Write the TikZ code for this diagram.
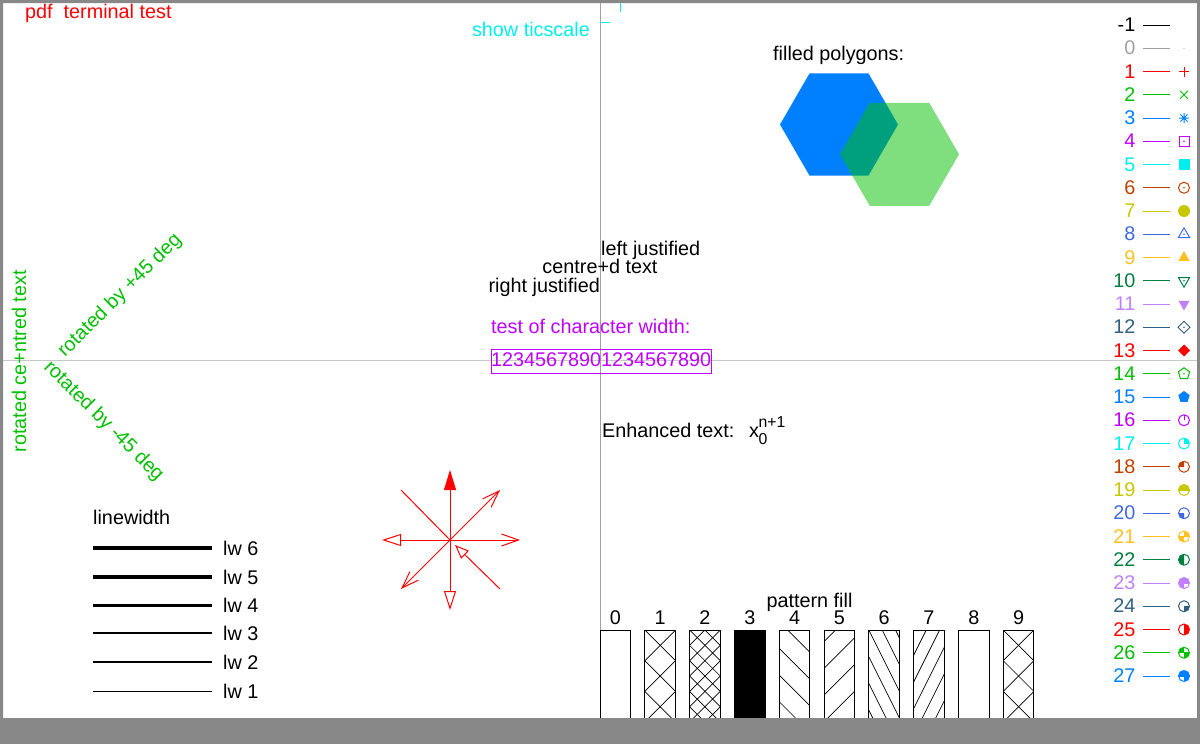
\documentclass[tikz,border=0pt]{standalone}
\usepackage{fontspec}
\setmainfont{Liberation Sans}
\usetikzlibrary{arrows.meta}

\definecolor{framegray}{HTML}{888888}
\definecolor{axisgray}{HTML}{A0A0A0}
\definecolor{zerogray}{HTML}{C8C8C8}
\definecolor{lt0}{HTML}{A0A0A0}
\definecolor{lt1}{HTML}{FF0000}
\definecolor{lt2}{HTML}{00C000}
\definecolor{lt3}{HTML}{0080FF}
\definecolor{lt4}{HTML}{C000FF}
\definecolor{lt5}{HTML}{00EEEE}
\definecolor{lt6}{HTML}{C04000}
\definecolor{lt7}{HTML}{C8C800}
\definecolor{lt8}{HTML}{4169E1}
\definecolor{lt9}{HTML}{FFC020}
\definecolor{lt10}{HTML}{008040}
\definecolor{lt11}{HTML}{C080FF}
\definecolor{lt12}{HTML}{306080}

\newcommand\gpfont{\fontsize{19.8}{23}\selectfont}
\newcommand\gpsmall{\fontsize{15.8}{18}\selectfont}

% hatched strip: box corner, slope, pitch, phase
\newcommand\hatch[4]{%
  \begin{scope}
    \clip (#1) rectangle ++(30.7,92);
    \foreach \hh in {-9,...,9}
      \draw[hatchline] (#1) ++(0,{#4+\hh*#3}) -- ++(30.7,{30.7*#2});
  \end{scope}}

% one filled quarter of a point circle
\newcommand\quadfill[4]{%
  \begin{scope}
    \clip (#1) rectangle ++(#3,#4);
    \fill[#2] (#1) circle[radius=5.5pt];
  \end{scope}}

\begin{document}
\begin{tikzpicture}[x=1pt, y=-1pt,
        every node/.style={inner sep=0pt, font=\gpfont},
        legline/.style={line width=0.9pt},
        pointline/.style={line width=1pt},
        hatchline/.style={line width=0.7pt},
        boxline/.style={line width=1pt},
        arrowline/.style={lt1, line width=1pt},
        rotlabel/.style={text=lt2},
        solidhead/.style={-{Triangle[length=20pt,width=12pt]}},
        openhead/.style={-{Triangle[open,length=19pt,width=12pt]}},
        barbhead/.style={-{Straight Barb[length=17pt,width=12pt]}}
    ]
        \useasboundingbox (0,0) rectangle (1200,744);
        \fill[white] (0,0) rectangle (1200,744);

        % axes
        \draw[zerogray, line width=1pt] (3,360) -- (1197,360);
        \draw[axisgray, line width=1pt] (600,3) -- (600,718);

        % title and tics
        \node[anchor=base west, text=lt1] (title) at (25,19) {pdf\ \ terminal test};
        \node[anchor=base east, text=lt5] (ticlbl) at (590,36) {show ticscale};
        \draw[lt5, line width=1pt] (600,22) -- (610,22);
        \draw[lt5, line width=1pt] (620,3) -- (620,12);

        % filled polygons
        \node[anchor=base west] (polytitle) at (773,60) {filled polygons:};
        \coordinate (hexA) at (839,124.5);
        \coordinate (hexB) at (899.5,154.3);
        \fill[lt3, shift={(hexA)}] (0:59) -- (60:59) -- (120:59) -- (180:59) -- (240:59) -- (300:59) -- cycle;
        \fill[lt2, fill opacity=0.5, shift={(hexB)}] (0:59.5) -- (60:59.5) -- (120:59.5) -- (180:59.5) -- (240:59.5) -- (300:59.5) -- cycle;

        % justification
        \node[anchor=base west] (ljust) at (601,255) {left justified};
        \node[anchor=base] (cjust) at (600,273) {centre+d text};
        \node[anchor=base east] (rjust) at (600,292) {right justified};

        % character width
        \node[anchor=base west, text=lt4] (cwtitle) at (491,333) {test of character width:};
        \node[anchor=base west, text=lt4, draw=lt4, line width=1pt, text height=16.5pt, text depth=7pt] (cwbox) at (490.5,366) {12345678901234567890};

        % enhanced text
        \node[anchor=base west] (enh) at (602,437) {Enhanced text:};
        \node[anchor=base west] (xvar) at (749,437) {x};
        \node[anchor=base west, font=\gpsmall] (xsub) at (758.5,444) {0};
        \node[anchor=base west, font=\gpsmall] (xsup) at (758.5,427) {n+1};

        % rotated labels
        \node[rotlabel, rotate=90] (rotc) at (19,361.5) {rotated ce+ntred text};
        \node[rotlabel, rotate=45, anchor=base west] (rotp) at (65,358) {rotated by +45 deg};
        \node[rotlabel, rotate=-45, anchor=base west] (rotm) at (43,368) {rotated by -45 deg};

        % arrow star
        \coordinate (hub) at (450,540);
        \coordinate (tipN) at (450,470);
        \coordinate (tipE) at (520,540);
        \coordinate (tipW) at (382,540);
        \coordinate (tipS) at (450,610);
        \coordinate (tipNE) at (500,490);
        \coordinate (tipSW) at (401,589);
        \coordinate (endNW) at (401,490);
        \coordinate (endSE) at (500,589);
        \coordinate (tipSE) at (455,545);
        \draw[arrowline, solidhead] (hub) -- (tipN);
        \draw[arrowline, barbhead] (hub) -- (tipE);
        \draw[arrowline, openhead] (hub) -- (tipW);
        \draw[arrowline, openhead] (hub) -- (tipS);
        \draw[arrowline, barbhead] (hub) -- (tipNE);
        \draw[arrowline, barbhead] (hub) -- (tipSW);
        \draw[arrowline] (hub) -- (endNW);
        \draw[arrowline, -{Triangle[open,length=14pt,width=11pt]}] (endSE) -- (tipSE);
        \fill[lt1] (hub) circle[radius=1.5pt];

        % linewidth
        \node[anchor=base west] (lwtitle) at (93,524) {linewidth};
        \foreach \n/\y in {6/548,5/577,4/605,3/633,2/662,1/691}{
            \draw[line width=\n*0.75pt] (93,\y) -- (212,\y);
            \node[anchor=base west] (lw\n) at (223,\y+7) {lw \n};
        }

        % key of line and point types
        \foreach \k/\lc in {-1/black,0/lt0,1/lt1,2/lt2,3/lt3,4/lt4,5/lt5,6/lt6,7/lt7,8/lt8,9/lt9,10/lt10,11/lt11,12/lt12,13/lt1,14/lt2,15/lt3,16/lt4,17/lt5,18/lt6,19/lt7,20/lt8,21/lt9,22/lt10,23/lt11,24/lt12,25/lt1,26/lt2,27/lt3}{
            \pgfmathsetmacro\yc{25+(\k+1)*23.25}
            \node[anchor=base east, text=\lc] (key\k) at (1135.5,\yc+6.5) {\k};
            \draw[legline, \lc] (1143,\yc) -- (1170,\yc);
            \coordinate (m\k) at (1184,\yc);
        }
        \fill[lt0] (m0) circle[radius=0.7pt];
        \draw[pointline, lt1] (m1) ++(-5,0) -- ++(10,0) (m1) ++(0,-5) -- ++(0,10);
        \draw[pointline, lt2] (m2) ++(-4,-4) -- ++(8,8) (m2) ++(-4,4) -- ++(8,-8);
        \draw[pointline, lt3] (m3) ++(-5,0) -- ++(10,0) (m3) ++(0,-5) -- ++(0,10) (m3) ++(-3.6,-3.6) -- ++(7.2,7.2) (m3) ++(-3.6,3.6) -- ++(7.2,-7.2);
        \draw[pointline, lt4] (m4) ++(-5,-5) rectangle ++(10,10);
        \fill[lt4] (m4) circle[radius=0.8pt];
        \fill[lt5] (m5) ++(-5.5,-5.5) rectangle ++(11,11);
        \draw[pointline, lt6] (m6) circle[radius=5.5pt];
        \fill[lt6] (m6) circle[radius=0.8pt];
        \fill[lt7] (m7) circle[radius=6pt];
        \draw[pointline, lt8, shift={(m8)}] (270:6.5) -- (150:6.5) -- (30:6.5) -- cycle;
        \fill[lt8] (m8) circle[radius=0.8pt];
        \fill[lt9, shift={(m9)}] (270:6.5) -- (150:6.5) -- (30:6.5) -- cycle;
        \draw[pointline, lt10, shift={(m10)}] (90:6.5) -- (210:6.5) -- (330:6.5) -- cycle;
        \fill[lt10] (m10) circle[radius=0.8pt];
        \fill[lt11, shift={(m11)}] (90:6.5) -- (210:6.5) -- (330:6.5) -- cycle;
        \draw[pointline, lt12] (m12) ++(0,-6) -- ++(6,6) -- ++(-6,6) -- ++(-6,-6) -- cycle;
        \fill[lt12] (m12) circle[radius=0.8pt];
        \fill[lt1] (m13) ++(0,-6) -- ++(6,6) -- ++(-6,6) -- ++(-6,-6) -- cycle;
        \draw[pointline, lt2, shift={(m14)}] (270:6) -- (198:6) -- (126:6) -- (54:6) -- (342:6) -- cycle;
        \fill[lt2] (m14) circle[radius=0.8pt];
        \fill[lt3, shift={(m15)}] (270:6) -- (198:6) -- (126:6) -- (54:6) -- (342:6) -- cycle;
        % quartered circles 16-27
        \foreach \k/\lc in {16/lt4,17/lt5,18/lt6,19/lt7,20/lt8,21/lt9,22/lt10,23/lt11,24/lt12,25/lt1,26/lt2,27/lt3}{
            \pgfmathtruncatemacro\qn{\k-16}
            \pgfmathtruncatemacro\qb{floor(\qn/2)}
            \pgfmathtruncatemacro\qc{floor(\qn/4)}
            \pgfmathtruncatemacro\qd{floor(\qn/8)}
            \ifodd\qn\relax \quadfill{m\k}{\lc}{7}{-7}\fi
            \ifodd\qb\relax \quadfill{m\k}{\lc}{-7}{-7}\fi
            \ifodd\qc\relax \quadfill{m\k}{\lc}{-7}{7}\fi
            \ifodd\qd\relax \quadfill{m\k}{\lc}{7}{7}\fi
            \draw[pointline, \lc] (m\k) circle[radius=5.5pt];
        }
        \draw[pointline, lt4] (m16) -- ++(0,-5.5);

        % pattern fill
        \node[anchor=base] (pattitle) at (809.5,607) {pattern fill};
        \foreach \i in {0,...,9}{
            \coordinate (box\i) at (600+44.8*\i,630);
            \node[anchor=base] (pnum\i) at (615.35+44.8*\i,624) {\i};
        }
        \hatch{box1}{1}{30.7}{0} \hatch{box1}{-1}{30.7}{0}
        \hatch{box2}{1}{15.35}{0} \hatch{box2}{-1}{15.35}{0}
        \fill (box3) rectangle ++(30.7,92);
        \hatch{box4}{1}{26.7}{18.3}
        \hatch{box5}{-1}{26.7}{11.7}
        \hatch{box6}{2}{26.7}{0}
        \hatch{box7}{-2}{26.7}{25.3}
        \hatch{box9}{1}{30.7}{0} \hatch{box9}{-1}{30.7}{0}
        \foreach \i in {0,...,9}
            \draw[boxline] (box\i) rectangle ++(30.7,92);

        % frame
        \fill[framegray, even odd rule] (0,0) rectangle (1200,744) (3,3) rectangle (1197,718);
    \end{tikzpicture}
\end{document}
